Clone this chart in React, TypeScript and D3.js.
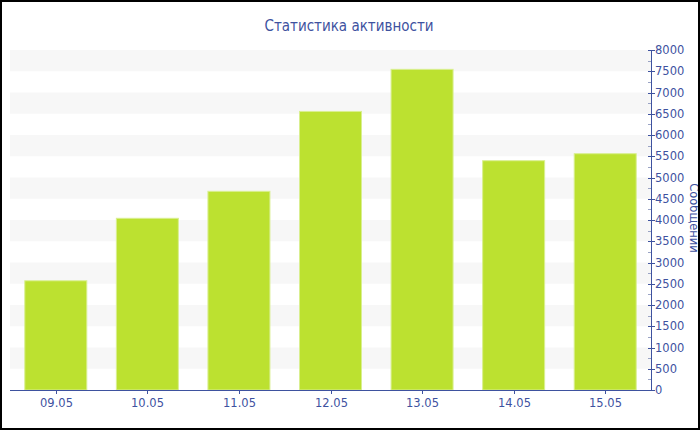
import React from "react";
import * as d3 from "d3";

const categories = ["09.05", "10.05", "11.05", "12.05", "13.05", "14.05", "15.05"];
const messages = [2570, 4040, 4675, 6555, 7545, 5395, 5560];
const yTicks = d3.range(0, 8001, 500);
const yMinorTicks = d3.range(250, 8000, 500);
const stripeBands = d3.range(500, 8000, 1000);
const titleText = "Статистика активности";
const yAxisTitle = "Сообщений";

const W = 700;
const H = 430;
const PL = 10;
const PR = 651;
const PT = 50;
const PB = 390;
const AXIS = "#3e529f";
const FONT = "DejaVu Sans, Verdana, sans-serif";

export default function App() {
  const x = d3.scaleBand<string>().domain(categories).range([PL, PR]).paddingInner(0.323).paddingOuter(0.1615);
  const y = d3.scaleLinear().domain([0, 8000]).range([PB, PT]);

  return (
    <svg width={W} height={H} style={{ position: "fixed", left: 0, top: 0, background: "#fff" }}>
      <rect x={0} y={0} width={W} height={H} fill="#fff" />
      {stripeBands.map((v) => (
        <rect key={v} x={PL} y={y(v + 500)} width={PR - PL} height={y(v) - y(v + 500)} fill="#f7f7f7" />
      ))}
      {categories.map((c, i) => (
        <rect
          key={c}
          x={x(c)!}
          y={y(messages[i])}
          width={x.bandwidth()}
          height={y(0) - y(messages[i])}
          fill="#bce130"
          stroke="#d9ef90"
          strokeWidth={1}
        />
      ))}
      {/* x axis */}
      <line x1={PL} x2={PR} y1={PB + 0.5} y2={PB + 0.5} stroke={AXIS} strokeWidth={1} />
      {categories.map((c) => {
        const cx = Math.round(x(c)! + x.bandwidth() / 2) + 0.5;
        return (
          <g key={c}>
            <line x1={cx} x2={cx} y1={PB} y2={PB + 4} stroke={AXIS} />
            <text x={cx} y={PB + 17} textAnchor="middle" fontFamily={FONT} fontSize={11.5} fill={AXIS}>
              {c}
            </text>
          </g>
        );
      })}
      {/* y axis */}
      <line x1={PR + 0.5} x2={PR + 0.5} y1={PT} y2={PB + 1} stroke={AXIS} strokeWidth={1} />
      {yMinorTicks.map((v) => (
        <line key={v} x1={PR - 3} x2={PR} y1={Math.round(y(v)) + 0.5} y2={Math.round(y(v)) + 0.5} stroke="#9aa3c4" />
      ))}
      {yTicks.map((v) => (
        <g key={v}>
          <line x1={PR - 3} x2={PR + 4} y1={Math.round(y(v)) + 0.5} y2={Math.round(y(v)) + 0.5} stroke={AXIS} />
          <text x={PR + 4} y={y(v)} dy="0.35em" fontFamily={FONT} fontSize={11.5} fill={AXIS}>
            {v}
          </text>
        </g>
      ))}
      <text
        transform={`translate(690, 218) rotate(90)`}
        textAnchor="middle"
        fontFamily={FONT}
        fontSize={11.5}
        fill={AXIS}
      >
        {yAxisTitle}
      </text>
      <text x={349} y={31} textAnchor="middle" fontFamily="DejaVu Sans Condensed, DejaVu Sans, sans-serif" fontSize={15} fill={AXIS}>
        {titleText}
      </text>
      <rect x={1} y={1} width={W - 2} height={H - 2} fill="none" stroke="#000" strokeWidth={2} />
    </svg>
  );
}
